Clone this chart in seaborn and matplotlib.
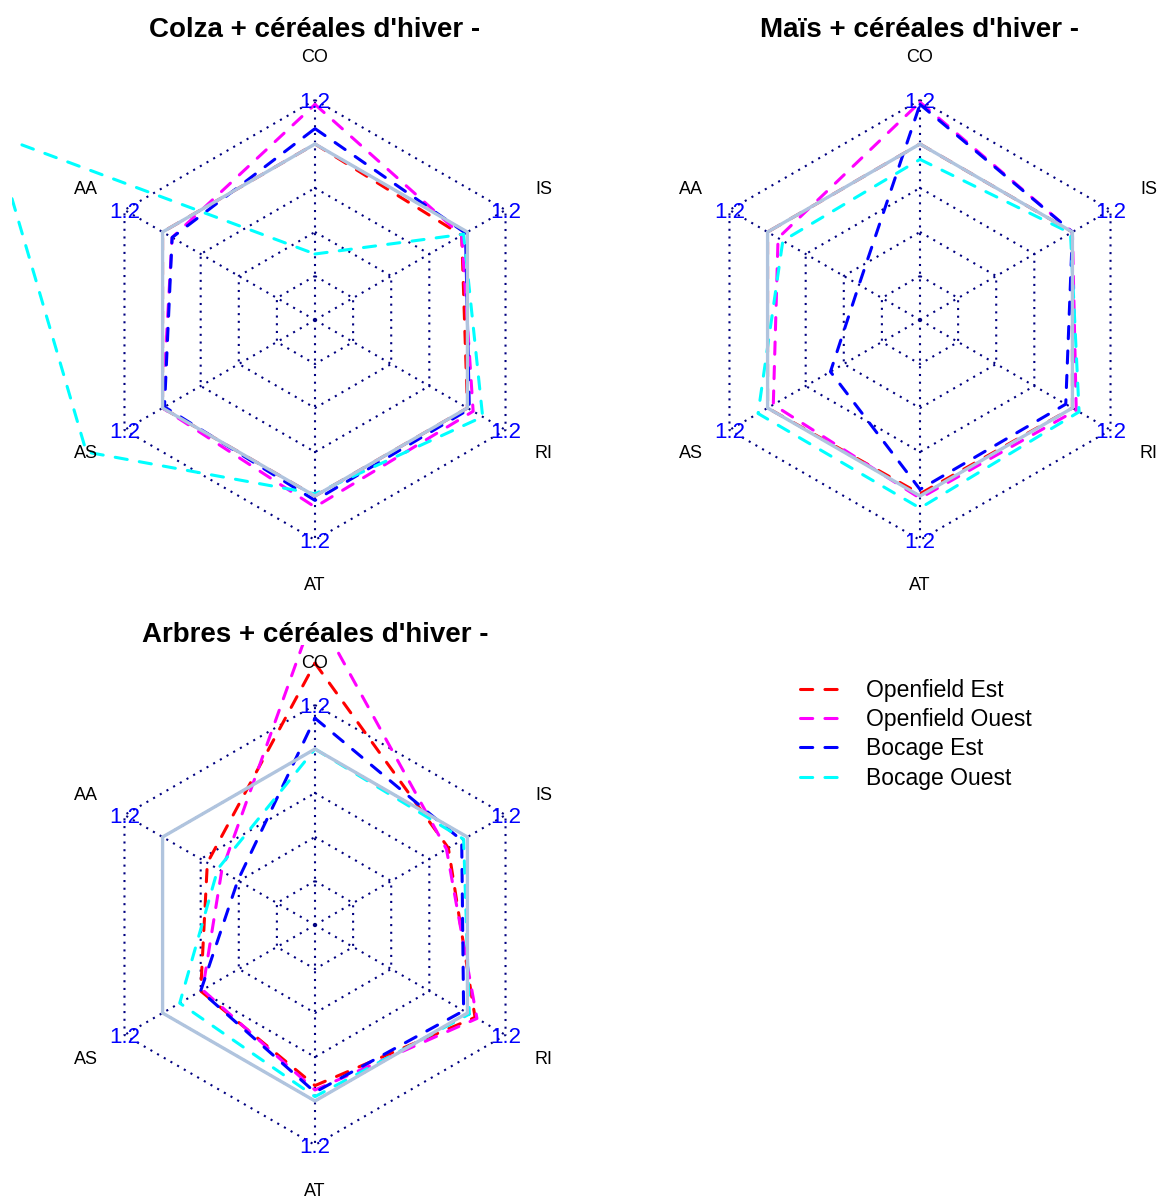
import numpy as np
import pandas as pd
import seaborn as sns
import matplotlib.pyplot as plt
from matplotlib.lines import Line2D

sns.set_style("white")
plt.rcParams['font.family'] = ['Liberation Sans', 'DejaVu Sans']
plt.rcParams['text.color'] = 'black'
plt.rcParams['lines.dash_capstyle'] = 'round'

# axes of the radar, clockwise from the top
categories = ["CO", "IS", "RI", "AT", "AS", "AA"]
series = ["Openfield Est", "Openfield Ouest", "Bocage Est", "Bocage Ouest"]
colors = ["#FF0000", "#FF00FF", "#0000FF", "#00FFFF"]
reference = [1.0, 1.0, 1.0, 1.0, 1.0, 1.0]
v_min, v_max = 0.4, 1.2
rings = [0.4, 0.6, 0.8, 1.0, 1.2]

colza_oe = [1.00, 0.97, 1.00, 1.00, 1.00, 1.00]
colza_oo = [1.18, 0.97, 1.03, 1.05, 1.00, 0.95]
colza_be = [1.07, 0.99, 1.01, 1.02, 0.99, 0.95]
colza_bo = [0.50, 0.98, 1.08, 0.99, 1.40, 1.89]

mais_oe = [1.00, 1.00, 1.00, 0.99, 1.00, 1.00]
mais_oo = [1.19, 1.00, 1.02, 1.01, 0.97, 0.945]
mais_be = [1.18, 1.00, 0.965, 0.97, 0.67, 0.52]
mais_bo = [0.93, 0.99, 1.035, 1.055, 1.05, 0.92]

arbres_oe = [1.39, 0.90, 1.04, 0.93, 0.80, 0.765]
arbres_oo = [1.63, 0.89, 1.05, 0.95, 0.79, 0.69]
arbres_be = [1.14, 0.97, 0.98, 0.96, 0.80, 0.605]
arbres_bo = [1.00, 0.98, 1.01, 0.98, 0.91, 0.71]

W, H = 1162, 1202
R = 220.0
fig = plt.figure(figsize=(W / 100, H / 100), dpi=100)
angles = np.deg2rad(90 - 60 * np.arange(len(categories)))


def to_r(v):
    return (np.asarray(v, dtype=float) - v_min) / (v_max - v_min) * 0.8 + 0.2


def closed_xy(vals):
    r = to_r(list(vals) + [vals[0]])
    a = np.append(angles, angles[0])
    return r * np.cos(a), r * np.sin(a)


def radar(title, cx, cy, box, values):
    x0, y0, x1, y1 = box
    ax = fig.add_axes([x0 / W, 1 - y1 / H, (x1 - x0) / W, (y1 - y0) / H])
    ax.set_xlim((x0 - cx) / R, (x1 - cx) / R)
    ax.set_ylim((cy - y1) / R, (cy - y0) / R)
    ax.axis('off')

    grid_kw = dict(color='#000080', lw=1.5, ls=(0, (1, 2.7)), dash_capstyle='butt', zorder=1)
    for lev in rings:
        xs, ys = closed_xy([lev] * len(categories))
        ax.plot(xs, ys, **grid_kw)
    for a in angles:
        ax.plot([0, np.cos(a)], [0, np.sin(a)], **grid_kw)

    frames = []
    for name, vals in zip(series, values):
        xs, ys = closed_xy(vals)
        frames.append(pd.DataFrame({'x': xs, 'y': ys, 'serie': name}))
    df = pd.concat(frames, ignore_index=True)
    sns.lineplot(data=df, x='x', y='y', hue='serie', style='serie',
                 palette=dict(zip(series, colors)),
                 dashes={s: (4, 4) for s in series},
                 sort=False, estimator=None, linewidth=2.2, legend=False, ax=ax)
    xs, ys = closed_xy(reference)
    sns.lineplot(x=xs, y=ys, color='#B0C4DE', sort=False, estimator=None,
                 linewidth=2.4, ax=ax)
    ax.set_xlabel('')
    ax.set_ylabel('')

    for cat, a in zip(categories, angles):
        ax.text(np.cos(a), np.sin(a), "1.2", color='#0000FF', fontsize=16,
                ha='center', va='center_baseline', clip_on=False, zorder=5)
        ax.text(1.2 * np.cos(a), 1.2 * np.sin(a), cat, color='black', fontsize=13,
                ha='center', va='center_baseline', clip_on=False)
    fig.text(cx / W, 1 - (y0 - 3) / H, title, ha='center', va='baseline',
             fontsize=20, fontweight='bold', color='black')


radar("Colza + céréales d'hiver -", 315, 320, (12, 40, 600, 600),
      [colza_oe, colza_oo, colza_be, colza_bo])
radar("Maïs + céréales d'hiver -", 920, 320, (617, 40, 1162, 600),
      [mais_oe, mais_oo, mais_be, mais_bo])
radar("Arbres + céréales d'hiver -", 315, 925, (12, 645, 600, 1202),
      [arbres_oe, arbres_oo, arbres_be, arbres_bo])

handles = [Line2D([], [], color=c, lw=2.2, ls=(0, (4, 4))) for c in colors]
fig.legend(handles, series, loc='upper left', bbox_to_anchor=(800 / W, 1 - 679 / H),
           frameon=False, fontsize=16.5, handlelength=1.96, handletextpad=0.9,
           labelspacing=0.27, borderpad=0, borderaxespad=0, labelcolor='black')

fig.savefig('out.png', dpi=100)
